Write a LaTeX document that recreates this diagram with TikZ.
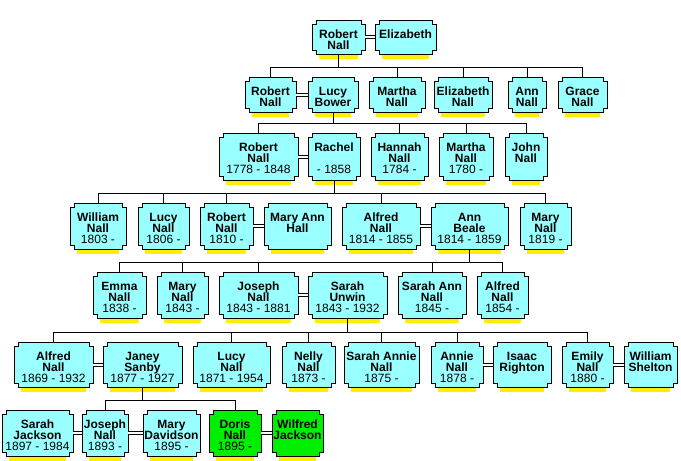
\documentclass[tikz,border=0pt]{standalone}
\usepackage{fontspec}
\setmainfont{Liberation Sans}
\usetikzlibrary{backgrounds}
\definecolor{boxcyan}{RGB}{153,255,255}
\definecolor{boxgreen}{RGB}{0,238,0}
\definecolor{shadowyellow}{RGB}{255,238,0}
\newcommand\famlines[3]{\vbox to #2pt{\hsize=#1pt\centering\parskip=0pt\baselineskip=11pt\lineskiplimit=-100pt\lineskip=0pt\leavevmode\rule{0pt}{18pt}#3\par\vss}}
\newcommand\nm[1]{\textbf{#1}}
\newcommand\person[6]{\node[person] (#1) at (#2,#4) {\famlines{\the\numexpr#3-#2\relax}{#5}{#6}};}
\newcommand\drawbox[2]{%
  \fill[shadowyellow] ([xshift=7pt]#1.south west) rectangle ([xshift=-7pt,yshift=-5pt]#1.south east);
  \filldraw[fill=#2, draw=black, line width=1pt]
   ([xshift=4pt]#1.north west) -- ([xshift=-4pt]#1.north east) -- ([xshift=-4pt,yshift=-4pt]#1.north east)
   -- ([yshift=-4pt]#1.north east) -- ([yshift=4pt]#1.south east) -- ([xshift=-4pt,yshift=4pt]#1.south east)
   -- ([xshift=-4pt]#1.south east) -- ([xshift=4pt]#1.south west) -- ([xshift=4pt,yshift=4pt]#1.south west)
   -- ([yshift=4pt]#1.south west) -- ([yshift=-4pt]#1.north west) -- ([xshift=4pt,yshift=-4pt]#1.north west) -- cycle;}
\tikzset{
  person/.style={rectangle, inner sep=0pt, outer sep=0pt, anchor=north west, font=\fontsize{12}{11}\selectfont},
  link/.style={draw=black, line width=1pt},
  marriage/.style={draw=black, line width=1pt, double=white, double distance=2pt}
}
\begin{document}
\begin{tikzpicture}[x=1pt,y=-1pt]
\useasboundingbox (0,0) rectangle (681,461);
% row 1
\person{A1}{312}{365}{20}{34}{\nm{Robert}\\\nm{Nall}}
\person{A2}{375}{436}{20}{34}{\nm{Elizabeth}}
% row 2
\person{B1}{245}{296}{77}{35}{\nm{Robert}\\\nm{Nall}}
\person{B2}{308}{358}{77}{35}{\nm{Lucy}\\\nm{Bower}}
\person{B3}{369}{425}{77}{35}{\nm{Martha}\\\nm{Nall}}
\person{B4}{434}{492}{77}{35}{\nm{Elizabeth}\\\nm{Nall}}
\person{B5}{508}{546}{77}{35}{\nm{Ann}\\\nm{Nall}}
\person{B6}{558}{607}{77}{35}{\nm{Grace}\\\nm{Nall}}
% row 3
\person{C1}{219}{298}{133}{47}{\nm{Robert}\\\nm{Nall}\\1778 - 1848}
\person{C2}{308}{360}{133}{47}{\nm{Rachel}\\\mbox{}\\- 1858}
\person{C3}{371}{428}{133}{47}{\nm{Hannah}\\\nm{Nall}\\1784 -}
\person{C4}{439}{493}{133}{47}{\nm{Martha}\\\nm{Nall}\\1780 -}
\person{C5}{505}{547}{133}{47}{\nm{John}\\\nm{Nall}}
% row 4
\person{D1}{70}{126}{203}{46}{\nm{William}\\\nm{Nall}\\1803 -}
\person{D2}{138}{189}{203}{46}{\nm{Lucy}\\\nm{Nall}\\1806 -}
\person{D3}{200}{253}{203}{46}{\nm{Robert}\\\nm{Nall}\\1810 -}
\person{D4}{264}{331}{203}{46}{\nm{Mary Ann}\\\nm{Hall}}
\person{D5}{342}{420}{203}{46}{\nm{Alfred}\\\nm{Nall}\\1814 - 1855}
\person{D6}{431}{508}{203}{46}{\nm{Ann}\\\nm{Beale}\\1814 - 1859}
\person{D7}{520}{571}{203}{46}{\nm{Mary}\\\nm{Nall}\\1819 -}
% row 5
\person{E1}{93}{146}{272}{46}{\nm{Emma}\\\nm{Nall}\\1838 -}
\person{E2}{157}{208}{272}{46}{\nm{Mary}\\\nm{Nall}\\1843 -}
\person{E3}{219}{298}{272}{46}{\nm{Joseph}\\\nm{Nall}\\1843 - 1881}
\person{E4}{308}{387}{272}{46}{\nm{Sarah}\\\nm{Unwin}\\1843 - 1932}
\person{E5}{398}{466}{272}{46}{\nm{Sarah Ann}\\\nm{Nall}\\1845 -}
\person{E6}{477}{528}{272}{46}{\nm{Alfred}\\\nm{Nall}\\1854 -}
% row 6
\person{F1}{14}{93}{342}{45}{\nm{Alfred}\\\nm{Nall}\\1869 - 1932}
\person{F2}{103}{182}{342}{45}{\nm{Janey}\\\nm{Sanby}\\1877 - 1927}
\person{F3}{193}{270}{342}{45}{\nm{Lucy}\\\nm{Nall}\\1871 - 1954}
\person{F4}{282}{335}{342}{45}{\nm{Nelly}\\\nm{Nall}\\1873 -}
\person{F5}{344}{419}{342}{45}{\nm{Sarah Annie}\\\nm{Nall}\\1875 -}
\person{F6}{431}{483}{342}{45}{\nm{Annie}\\\nm{Nall}\\1878 -}
\person{F7}{493}{551}{342}{45}{\nm{Isaac}\\\nm{Righton}}
\person{F8}{562}{613}{342}{45}{\nm{Emily}\\\nm{Nall}\\1880 -}
\person{F9}{624}{677}{342}{45}{\nm{William}\\\nm{Shelton}}
% row 7
\person{G1}{2}{73}{410}{46}{\nm{Sarah}\\\nm{Jackson}\\1897 - 1984}
\person{G2}{82}{128}{410}{46}{\nm{Joseph}\\\nm{Nall}\\1893 -}
\person{G3}{143}{200}{410}{46}{\nm{Mary}\\\nm{Davidson}\\1895 -}
\person{G4}{209}{261}{410}{46}{\nm{Doris}\\\nm{Nall}\\1895 -}
\person{G5}{272}{323}{410}{46}{\nm{Wilfred}\\\nm{Jackson}}
% marriages
\foreach \a/\b in {A1/A2,B1/B2,C1/C2,D3/D4,D5/D6,E3/E4,F1/F2,F6/F7,F8/F9,G1/G2,G2/G3,G4/G5}
  {\draw[marriage] (\a.east) -- (\b.west);}
% descent bars
\coordinate (bar1) at (0,67);
\coordinate (bar2) at (0,123);
\coordinate (bar3) at (0,193);
\coordinate (bar4) at (0,262);
\coordinate (bar5) at (0,332);
\coordinate (bar6) at (0,400);
\foreach \c in {B1,B3,B4,B5,B6} {\draw[link] (A1.south) |- (\c.north |- bar1) -- (\c.north);}
\foreach \c in {C1,C3,C4,C5} {\draw[link] (B2.south) |- (\c.north |- bar2) -- (\c.north);}
\foreach \c in {D1,D2,D3,D5,D7} {\draw[link] (C2.south) |- (\c.north |- bar3) -- (\c.north);}
\foreach \c in {E1,E2,E3,E5,E6} {\draw[link] (D6.south) |- (\c.north |- bar4) -- (\c.north);}
\foreach \c in {F1,F3,F4,F5,F6,F8} {\draw[link] (E4.south) |- (\c.north |- bar5) -- (\c.north);}
\foreach \c in {G2,G4} {\draw[link] (F2.south) |- (\c.north |- bar6) -- (\c.north);}
\begin{scope}[on background layer]
\fill[white] (0,0) rectangle (681,461);
\foreach \n in {A1,A2,B1,B2,B3,B4,B5,B6,C1,C2,C3,C4,C5,D1,D2,D3,D4,D5,D6,D7,E1,E2,E3,E4,E5,E6,F1,F2,F3,F4,F5,F6,F7,F8,F9,G1,G2,G3}
  {\drawbox{\n}{boxcyan}}
\drawbox{G4}{boxgreen}
\drawbox{G5}{boxgreen}
\end{scope}
\end{tikzpicture}
\end{document}
